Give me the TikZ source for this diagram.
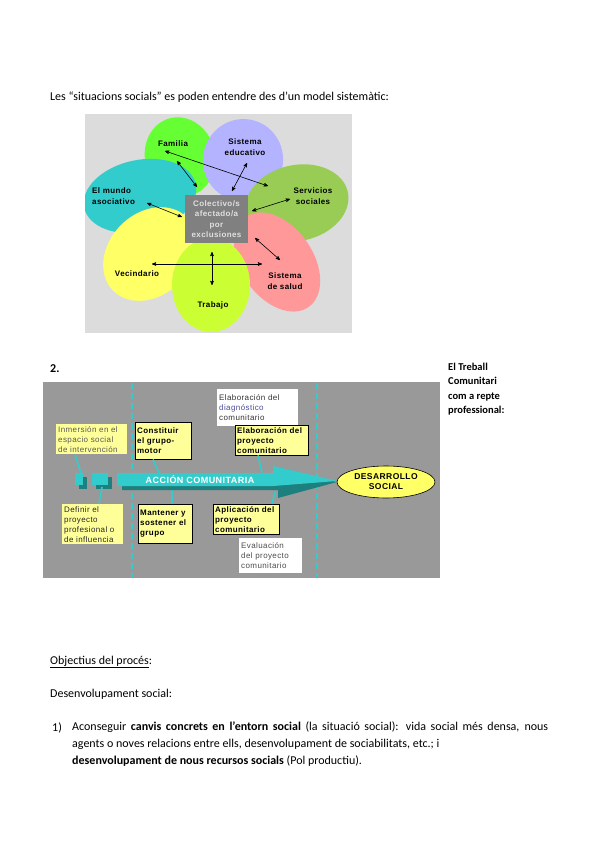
\documentclass[tikz,border=0pt]{standalone}
\usepackage{fontspec}
\setmainfont{Carlito}
\newfontfamily\diagfont[LetterSpace=5]{Liberation Sans}
\usetikzlibrary{arrows,shapes.geometric,positioning}
\definecolor{bgone}{HTML}{DCDCDC}
\definecolor{bgtwo}{HTML}{999999}
\definecolor{famgreen}{HTML}{66FF33}
\definecolor{edulilac}{HTML}{B3B3FF}
\definecolor{servolive}{HTML}{99CC55}
\definecolor{munteal}{HTML}{33CCCC}
\definecolor{vecyellow}{HTML}{FFFF66}
\definecolor{trablime}{HTML}{CCFF33}
\definecolor{salpink}{HTML}{FF9999}
\definecolor{cengray}{HTML}{808080}
\definecolor{acteal}{HTML}{33CCCC}
\definecolor{acdark}{HTML}{1E7F7F}
\definecolor{boxyellow}{HTML}{FFFF99}
\definecolor{desyellow}{HTML}{FFFF66}

\begin{document}
\begin{tikzpicture}[x=1pt,y=-1pt,
            every node/.style={inner sep=0pt},
            txt/.style={anchor=base west, font=\fontsize{12}{14}\selectfont},
            lbl/.style={align=center, font=\diagfont\bfseries\fontsize{8}{10.5}\selectfont},
            dbl/.style={<->,>=stealth',semithick},
            ybox/.style={fill=boxyellow, anchor=north west, inner sep=2pt, align=left, font=\diagfont\fontsize{8}{10}\selectfont},
            bbox/.style={ybox, draw=black, font=\diagfont\bfseries\fontsize{8}{10}\selectfont},
            wbox/.style={ybox, fill=white},
            link/.style={draw=acteal, line width=1.6pt}
  ]
  \useasboundingbox[fill=white] (0,0) rectangle (599,848);

  \node[txt] (intro) at (50,101) {Les “situacions socials” es poden entendre des d’un model sistemàtic:};

  % model sistemic
  \fill[bgone] (85,114) rectangle (352,333);
  \begin{scope}
    \clip (85,114) rectangle (352,333);
    \fill[famgreen, rotate around={15:(180,157)}] (180,157) ellipse [x radius=35, y radius=40];
    \fill[edulilac, rotate around={-15:(243,160)}] (243,160) ellipse [x radius=40, y radius=41];
    \fill[servolive, rotate around={12:(297,203)}] (297,203) ellipse [x radius=52, y radius=38];
    \fill[munteal, rotate around={12:(140,196)}] (140,196) ellipse [x radius=57, y radius=36];
    \fill[vecyellow, rotate around={45:(150,254)}] (150,254) ellipse [x radius=52, y radius=41];
    \fill[salpink, rotate around={-55:(277,262)}] (277,262) ellipse [x radius=55, y radius=36];
    \fill[trablime] (211,285) ellipse [x radius=39, y radius=47];
  \end{scope}

  \node[lbl, fill=cengray, text=white!88!black, minimum width=63, minimum height=48] (cen) at (216.5,219) {Colectivo/s\\afectado/a\\por\\exclusiones};
  \node[lbl] (fam) at (173,144) {Familia};
  \node[lbl] (edu) at (245,147) {Sistema\\educativo};
  \node[lbl] (serv) at (313,196) {Servicios\\sociales};
  \node[lbl, align=left, anchor=west] (mun) at (92,196) {El mundo\\asociativo};
  \node[lbl] (vec) at (137,274) {Vecindario};
  \node[lbl] (trab) at (213,305) {Trabajo};
  \node[lbl] (sal) at (285,281) {Sistema\\de salud};

  \coordinate (fam-a) at (165,151);  \coordinate (serv-a) at (268,186);
  \coordinate (fam-b) at (177,161);  \coordinate (cen-a) at (197,187);
  \coordinate (edu-a) at (247,163);  \coordinate (cen-b) at (232,191);
  \coordinate (mun-a) at (147,203);  \coordinate (cen-c) at (182,217);
  \coordinate (serv-b) at (290,199); \coordinate (cen-d) at (252,211);
  \coordinate (sal-a) at (280,260);  \coordinate (cen-e) at (255,238);
  \coordinate (vec-a) at (152,264);  \coordinate (sal-b) at (262,264);
  \coordinate (trab-a) at (212,285); \coordinate (cen-f) at (212,252);

  \draw[dbl] (fam-a) -- (serv-a);
  \draw[dbl] (fam-b) -- (cen-a);
  \draw[dbl] (edu-a) -- (cen-b);
  \draw[dbl] (mun-a) -- (cen-c);
  \draw[dbl] (serv-b) -- (cen-d);
  \draw[dbl] (cen-e) -- (sal-a);
  \draw[dbl] (vec-a) -- (sal-b);
  \draw[dbl] (cen-f) -- (trab-a);

  % treball comunitari
  \node[txt, font=\fontsize{12}{14}\selectfont\bfseries] (num) at (50,372) {2.};
  \node[anchor=north west, align=left, font=\fontsize{10.5}{14.3}\selectfont\bfseries] (repte) at (448,363) {El Treball\\Comunitari\\com a repte\\professional:};

  \fill[bgtwo] (43,382) rectangle (440,578);
  \draw[acteal, line width=1.3pt, dash pattern=on 6pt off 4pt] (132,383) -- (132,577);
  \draw[acteal, line width=1.3pt, dash pattern=on 6pt off 4pt] (317,383) -- (317,577);

  \node[wbox, text width=77, minimum height=37, text=black!80] (diag) at (217,389) {Elaboración del\\\textcolor{blue!45!black!70}{diagnóstico}\\comunitario};
  \node[ybox, text width=67, text=black!65] (inm) at (56,424) {Inmersión en el\\espacio social\\de intervención};
  \node[bbox, text width=52, minimum height=37] (con) at (135,422) {Constituir\\el grupo-\\motor};
  \node[bbox, text width=69] (elab) at (235,425) {Elaboración del\\proyecto\\comunitario};
  \node[ybox, text width=57, text=black!85] (def) at (62,504) {Definir el\\proyecto\\profesional o\\de influencia};
  \node[bbox, text width=50, minimum height=39] (man) at (138,504) {Mantener y\\sostener el\\grupo};
  \node[bbox, text width=62] (apl) at (213,504) {Aplicación del\\proyecto\\comunitario};
  \node[wbox, text width=59, minimum height=35, text=black!70] (eva) at (239,538) {Evaluación\\del proyecto\\comunitario};

  \coordinate (shaft) at (117,473);
  \node[fill=acdark, anchor=north west, minimum width=8, minimum height=12] (sq1s) at (79,477) {};
  \node[fill=acdark, anchor=north west, minimum width=16, minimum height=12] (sq2s) at (96,477) {};
  \draw[link] ([xshift=19pt]inm.south west) -- (81,473);
  \draw[link] ([xshift=37pt]def.north west) -- (102,487);
  \draw[link] ([xshift=18pt]con.south west) -- ([xshift=42pt]shaft);
  \draw[link] ([xshift=34pt]man.north west) -- ([xshift=55pt,yshift=-17pt]shaft);
  \draw[link] ([xshift=23pt]elab.south west) -- ([xshift=145pt]shaft);
  \draw[link] ([xshift=59pt]apl.north west) -- ([xshift=158pt,yshift=-19pt]shaft);
  \node[fill=acteal, anchor=north west, minimum width=8, minimum height=12] (sq1) at (75,473) {};
  \node[fill=acteal, anchor=north west, minimum width=16, minimum height=12] (sq2) at (92,473) {};

  \fill[acdark] (122,477) -- (278,477) -- (278,470) -- (337,482) -- (278,498) -- (278,490) -- (122,490) -- cycle;
  \fill[acteal] (shaft) -- (273,473) -- (273,466) -- (337,481) -- (273,486) -- (117,486) -- cycle;
  \node[font=\diagfont\bfseries\fontsize{9}{10}\selectfont, text=white] (acc) at (200,479.5) {ACCIÓN COMUNITARIA};

  \node[ellipse, draw=black, semithick, fill=desyellow, minimum width=98, minimum height=32, lbl, font=\diagfont\bfseries\fontsize{8.5}{10}\selectfont] (des) at (386,482) {DESARROLLO\\SOCIAL};

  % objectius
  \node[txt] (obj) at (50,664) {\underline{Objectius del procés}:};
  \node[txt] (desv) at (50,697) {Desenvolupament social:};
  \node[txt] (item) at (52,731) {1)};
  \node[anchor=north west, text width=476, align=justify, font=\fontsize{12}{17}\selectfont] (par) at (72,722) {Aconseguir \textbf{canvis concrets en l’entorn social} (la situació social): vida social més densa, nous\linebreak agents o noves relacions entre ells, desenvolupament de sociabilitats, etc.; i\\\textbf{desenvolupament de nous recursos socials} (Pol productiu).};

\end{tikzpicture}
\end{document}
